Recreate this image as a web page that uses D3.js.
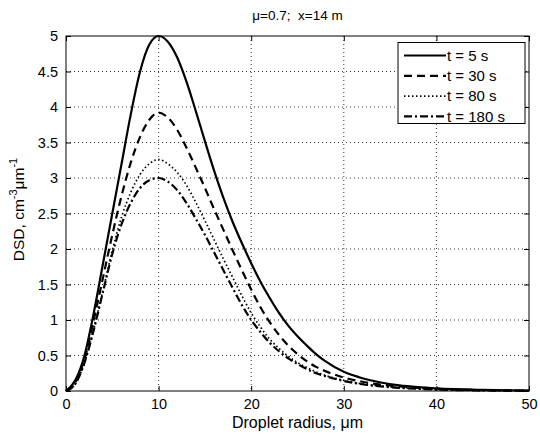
<!DOCTYPE html>
<html>
<head>
<meta charset="utf-8">
<script src="https://cdn.jsdelivr.net/npm/d3@7"></script>
<style>
  body { margin: 0; background: #fff; }
  text { font-family: "Liberation Sans", Arial, sans-serif; fill: #000; }
</style>
</head>
<body>
<div class="chart"></div>
<script>
// droplet radius (um) sample points
let radius = [0,1,2,3,4,5,6,7,8,9,10,11,12,13,14,15,16,17,18,19,20,21,22,23,24,25,26,27,28,30,32,34,36,38,40,45,50];

let dsd5   = [0,0.15,0.5,1.1,1.8,2.5,3.2,3.9,4.5,4.88,5.0,4.92,4.7,4.36,3.95,3.52,3.1,2.72,2.38,2.08,1.8,1.54,1.31,1.1,0.92,0.77,0.64,0.52,0.42,0.27,0.18,0.12,0.08,0.055,0.038,0.016,0.006];
let dsd30  = [0,0.12,0.45,1.0,1.6,2.2,2.75,3.22,3.58,3.82,3.92,3.85,3.68,3.43,3.15,2.86,2.56,2.27,1.98,1.7,1.43,1.18,0.97,0.79,0.64,0.52,0.42,0.34,0.28,0.19,0.13,0.09,0.065,0.045,0.03,0.012,0.005];
let dsd80  = [0,0.1,0.4,0.88,1.42,1.98,2.45,2.8,3.05,3.2,3.26,3.2,3.08,2.9,2.66,2.4,2.13,1.86,1.6,1.34,1.1,0.9,0.73,0.6,0.49,0.4,0.33,0.27,0.22,0.15,0.1,0.07,0.048,0.033,0.022,0.009,0.004];
let dsd180 = [0,0.1,0.4,0.86,1.4,1.93,2.35,2.65,2.86,2.97,3.0,2.95,2.83,2.65,2.43,2.2,1.95,1.7,1.45,1.21,1.0,0.83,0.68,0.56,0.46,0.38,0.31,0.25,0.21,0.14,0.095,0.065,0.045,0.03,0.02,0.008,0.003];

let seriesNames = ["t = 5 s", "t = 30 s", "t = 80 s", "t = 180 s"];
let xTicks = [0,10,20,30,40,50];
let yTicks = [0,0.5,1,1.5,2,2.5,3,3.5,4,4.5,5];

let series = [dsd5, dsd30, dsd80, dsd180].map((vals, i) => ({
  name: seriesNames[i],
  values: vals.map((v, j) => ({r: radius[j], v: v}))
}));

let styles = [
  {dash: null, w: 2.2},
  {dash: "8,5", w: 2.2},
  {dash: "1.5,2.5", w: 1.7},
  {dash: "8,3,2,3", w: 2.2}
];

let W = 540, H = 437;
let margin = {top: 36, right: 11, bottom: 46, left: 66};
let width = W - margin.left - margin.right;
let height = H - margin.top - margin.bottom;

let svg = d3.select(".chart").append("svg")
    .attr("width", W)
    .attr("height", H)
  .append("g")
    .attr("transform", "translate(" + margin.left + "," + margin.top + ")");

let x = d3.scaleLinear().domain([0, 50]).range([0, width]);
let y = d3.scaleLinear().domain([0, 5]).range([height, 0]);

// grid
svg.append("g").selectAll("line")
  .data(xTicks.slice(1, -1))
  .enter().append("line")
    .attr("x1", d => x(d)).attr("x2", d => x(d))
    .attr("y1", 0).attr("y2", height)
    .attr("stroke", "#000").attr("stroke-width", 0.8)
    .attr("stroke-dasharray", "1,3");

svg.append("g").selectAll("line")
  .data(yTicks.slice(1, -1))
  .enter().append("line")
    .attr("y1", d => y(d)).attr("y2", d => y(d))
    .attr("x1", 0).attr("x2", width)
    .attr("stroke", "#000").attr("stroke-width", 0.8)
    .attr("stroke-dasharray", "1,3");

// axes, ticks pointing inward on all four sides
let xAxis = d3.axisBottom(x).tickValues(xTicks).tickSize(-5).tickPadding(8).tickFormat(d3.format("d"));
let yAxis = d3.axisLeft(y).tickValues(yTicks).tickSize(-5).tickPadding(8).tickFormat(d => d);

let gx = svg.append("g").attr("transform", "translate(0," + height + ")").call(xAxis);
let gy = svg.append("g").call(yAxis);
let gx2 = svg.append("g").call(d3.axisTop(x).tickValues(xTicks).tickSize(-5).tickFormat(""));
let gy2 = svg.append("g").attr("transform", "translate(" + width + ",0)")
  .call(d3.axisRight(y).tickValues(yTicks).tickSize(-5).tickFormat(""));

[gx, gy, gx2, gy2].forEach(g => {
  g.select(".domain").remove();
  g.selectAll("line").attr("stroke", "#000");
  g.selectAll("text").style("font-size", "14.5px").style("font-family", "Liberation Sans, Arial, sans-serif");
});

// frame
svg.append("rect")
  .attr("width", width).attr("height", height)
  .attr("fill", "none").attr("stroke", "#000").attr("stroke-width", 1);

let line = d3.line()
  .curve(d3.curveMonotoneX)
  .x(d => x(d.r))
  .y(d => y(d.v));

svg.selectAll(".curve")
  .data(series)
  .enter().append("path")
    .attr("class", "curve")
    .attr("d", d => line(d.values))
    .attr("fill", "none")
    .attr("stroke", "#000")
    .attr("stroke-width", (d, i) => styles[i].w)
    .attr("stroke-dasharray", (d, i) => styles[i].dash);

// legend
let lg = svg.append("g").attr("transform", "translate(" + (x(35.8) + 0.5) + ",6.5)");
lg.append("rect")
  .attr("width", 127).attr("height", 81)
  .attr("fill", "#fff").attr("stroke", "#000").attr("stroke-width", 1);

let items = lg.selectAll(".item")
  .data(series)
  .enter().append("g")
    .attr("transform", (d, i) => "translate(0," + (13 + i * 20.3) + ")");

items.append("line")
  .attr("x1", 6).attr("x2", 48)
  .attr("stroke", "#000")
  .attr("stroke-width", (d, i) => styles[i].w)
  .attr("stroke-dasharray", (d, i) => styles[i].dash);

items.append("text")
  .attr("x", 49).attr("dy", "0.35em")
  .style("font-size", "15px")
  .text(d => d.name);

// title
svg.append("text")
  .attr("x", width / 2).attr("y", -16)
  .attr("text-anchor", "middle")
  .style("font-size", "13.5px")
  .text("\u03bc=0.7;\u00a0\u00a0x=14 m");

// x label
svg.append("text")
  .attr("x", width / 2).attr("y", height + 37)
  .attr("text-anchor", "middle")
  .style("font-size", "16px")
  .text("Droplet radius, \u03bcm");

// y label with superscripts
let yl = svg.append("text")
  .attr("transform", "translate(-42," + (height / 2 - 4) + ") rotate(-90)")
  .attr("text-anchor", "middle")
  .style("font-size", "15.5px");
yl.append("tspan").text("DSD, cm");
yl.append("tspan").attr("dy", -7).style("font-size", "11px").text("-3");
yl.append("tspan").attr("dy", 7).text("\u03bcm");
yl.append("tspan").attr("dy", -7).style("font-size", "11px").text("-1");
</script>
</body>
</html>
